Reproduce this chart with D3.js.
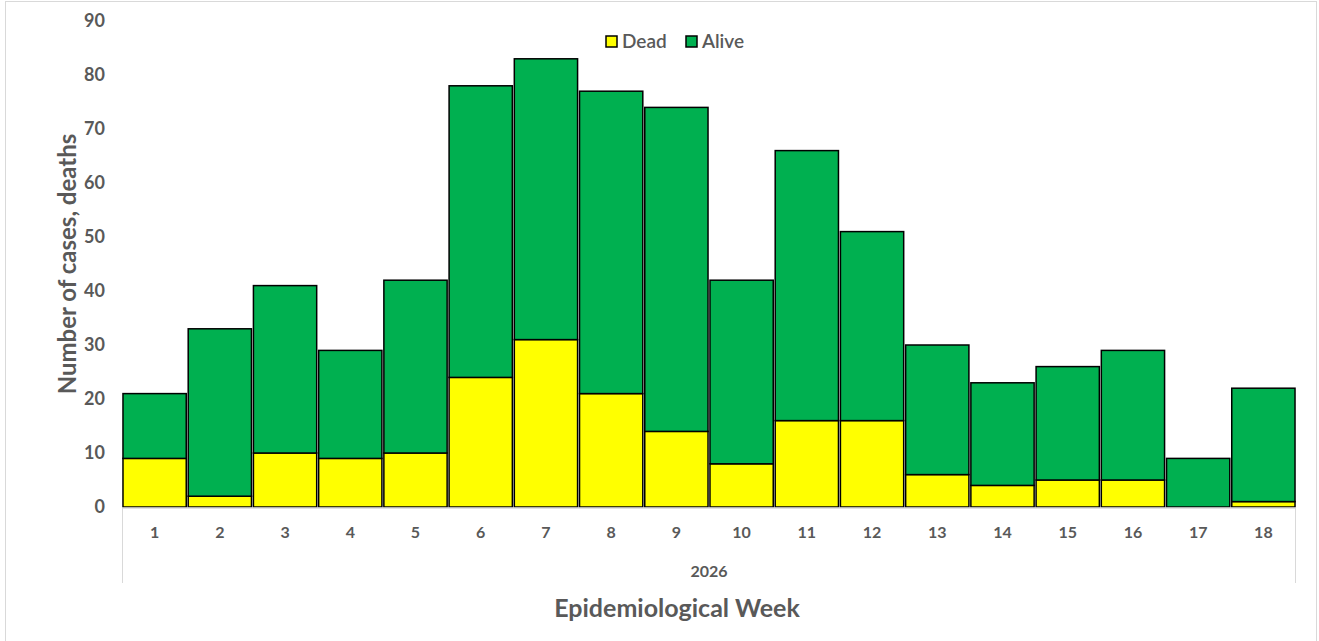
<!DOCTYPE html>
<html lang='en'>
  <head>
    <meta charset='utf-8'>
    <title>Epidemiological Week</title>
    <script src='https://cdn.jsdelivr.net/npm/d3@7'></script>
    <style>
      body { margin: 0; background: #fff; font-family: 'Lato', 'Open Sans', sans-serif; }
      svg { display: block; }
    </style>
  </head>
  <body>
    <div id='chart'></div>
    <script>
    // data
    var weeks = ['1','2','3','4','5','6','7','8','9','10','11','12','13','14','15','16','17','18'];
    var dead  = [9, 2, 10, 9, 10, 24, 31, 21, 14, 8, 16, 16, 6, 4, 5, 5, 0, 1];
    var alive = [12, 31, 31, 20, 32, 54, 52, 56, 60, 34, 50, 35, 24, 19, 21, 24, 9, 21];
    var yTicks = [0, 10, 20, 30, 40, 50, 60, 70, 80, 90];
    var seriesNames = ['Dead', 'Alive'];
    var seriesColors = ['#ffff00', '#00b050'];
    var yearLabel = '2026';

    var W = 1319, H = 641;
    var margin = { top: 21, right: 23, bottom: 134, left: 122 },
        width = W - margin.left - margin.right,
        height = H - margin.top - margin.bottom;

    var root = d3.select('#chart').append('svg')
        .attr('width', W).attr('height', H);

    // outer chart border
    root.append('rect')
        .attr('x', 5.5).attr('y', 1.5)
        .attr('width', 1311).attr('height', 645)
        .attr('fill', 'none').attr('stroke', '#d9d9d9');

    var svg = root.append('g')
        .attr('transform', 'translate(' + margin.left + ',' + margin.top + ')');

    var rows = weeks.map(function(w, i) { return { week: w, Dead: dead[i], Alive: alive[i] }; });
    var stacked = d3.stack().keys(seriesNames)(rows);

    var x = d3.scaleBand().domain(weeks).range([0, width]).paddingInner(0.03).paddingOuter(0.015);
    var y = d3.scaleLinear().domain([0, 90]).range([height, 0]);
    var color = d3.scaleOrdinal().domain(seriesNames).range(seriesColors);

    // y axis (labels only)
    var yAxis = svg.append('g')
        .call(d3.axisLeft(y).tickValues(yTicks).tickSize(0).tickPadding(17));
    yAxis.select('.domain').remove();
    yAxis.selectAll('text')
        .attr('fill', '#595959').style('font-size', '18px').style('font-weight', 'bold')
        .style('font-family', 'Lato, sans-serif');

    // bars
    svg.append('g').selectAll('g')
      .data(stacked)
      .enter().append('g')
        .attr('fill', function(d) { return color(d.key); })
      .selectAll('rect')
      .data(function(d) { return d.filter(function(p) { return p[1] - p[0] > 0; }); })
      .enter().append('rect')
        .attr('x', function(d) { return x(d.data.week); })
        .attr('y', function(d) { return y(d[1]); })
        .attr('width', x.bandwidth())
        .attr('height', function(d) { return y(d[0]) - y(d[1]); })
        .attr('stroke', '#000')
        .attr('stroke-width', 1.5);

    // category axis with box lines
    var axisG = svg.append('g').attr('transform', 'translate(0,' + height + ')');
    axisG.append('line')
        .attr('x1', 0).attr('x2', width).attr('y1', 1).attr('y2', 1)
        .attr('stroke', '#d9d9d9').attr('stroke-width', 1.5);
    axisG.append('line')
        .attr('x1', 0.5).attr('x2', 0.5).attr('y1', 1).attr('y2', 76)
        .attr('stroke', '#d9d9d9');
    axisG.append('line')
        .attr('x1', width - 0.5).attr('x2', width - 0.5).attr('y1', 1).attr('y2', 76)
        .attr('stroke', '#d9d9d9');

    var xAxis = axisG.append('g')
        .call(d3.axisBottom(x).tickSize(0).tickPadding(20));
    xAxis.select('.domain').remove();
    xAxis.selectAll('text')
        .attr('fill', '#595959').style('font-size', '16px').style('font-weight', 'bold')
        .style('font-family', 'Lato, sans-serif');

    axisG.append('text')
        .attr('x', width / 2).attr('y', 70)
        .attr('text-anchor', 'middle')
        .attr('fill', '#595959').style('font-size', '16px').style('font-weight', 'bold')
        .text(yearLabel);

    // axis titles
    root.append('text')
        .attr('x', 677).attr('y', 617)
        .attr('text-anchor', 'middle')
        .attr('fill', '#595959').style('font-size', '25px').style('font-weight', 'bold')
        .text('Epidemiological Week');

    root.append('text')
        .attr('transform', 'translate(76,' + 264 + ') rotate(-90)')
        .attr('text-anchor', 'middle')
        .attr('fill', '#595959').style('font-size', '24px').style('font-weight', 'bold')
        .text('Number of cases, deaths');

    // legend
    var legend = root.append('g').attr('transform', 'translate(606,36)');
    var lx = [0, 80];
    seriesNames.forEach(function(name, i) {
      legend.append('rect')
        .attr('x', lx[i]).attr('y', 0).attr('width', 11).attr('height', 11)
        .attr('fill', color(name)).attr('stroke', '#000').attr('stroke-width', 1.5);
      legend.append('text')
        .attr('x', lx[i] + 16).attr('y', 12)
        .attr('fill', '#595959').style('font-size', '19px').style('font-weight', '600')
        .text(name);
    });
    </script>
  </body>
</html>
